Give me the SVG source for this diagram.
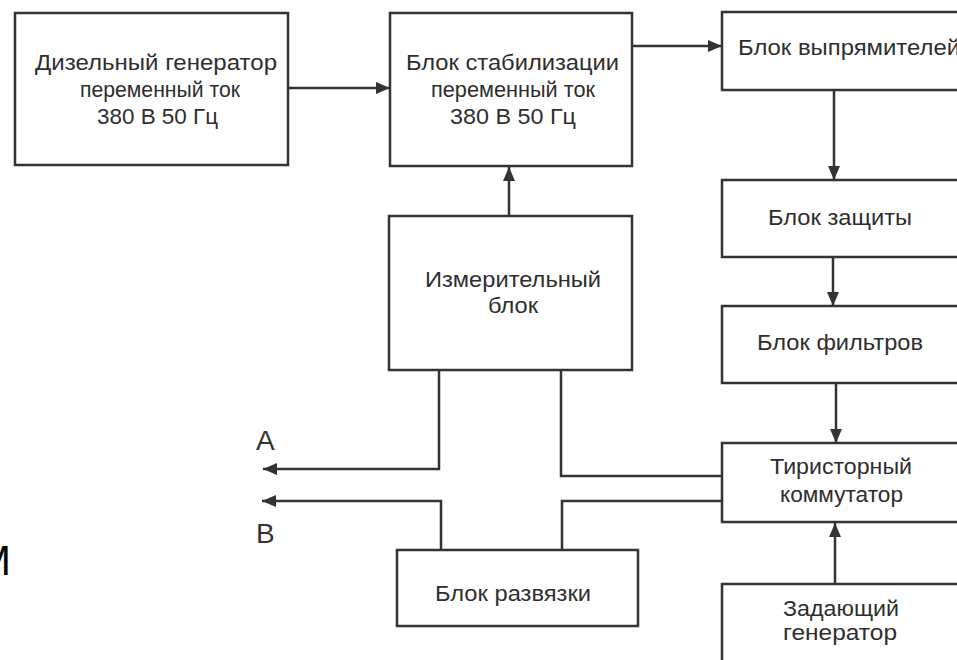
<svg xmlns="http://www.w3.org/2000/svg" width="957" height="660" viewBox="0 0 957 660">
<defs>
<marker id="arr" markerUnits="userSpaceOnUse" markerWidth="15" markerHeight="12" refX="14" refY="6" orient="auto">
<path d="M0,0 L14,6 L0,12 z" fill="#333"/>
</marker>
<style>
.box{fill:#fff;stroke:#333;stroke-width:2.5}
.t{font-family:"Liberation Sans",Arial,sans-serif;font-size:22px;fill:#2e2e2e}
.lbl{font-family:"Liberation Sans",Arial,sans-serif;font-size:28px;fill:#333}
.c{fill:none;stroke:#333;stroke-width:2.5}
.a{marker-end:url(#arr)}
</style>
</defs>
<rect width="957" height="660" fill="#fff"/>
<g id="connectors">
<path class="c a" d="M288,88 L390,88"/>
<path class="c a" d="M632,46 L722,46"/>
<path class="c a" d="M834,90 L834,180"/>
<path class="c a" d="M833,257 L833,306"/>
<path class="c a" d="M836,383 L836,443"/>
<path class="c a" d="M835,584 L835,523"/>
<path class="c a" d="M509,216 L509,167"/>
<path class="c a" d="M439,370 L439,469 L263,469"/>
<path class="c" d="M561,370 L561,476 L722,476"/>
<path class="c" d="M722,501 L562,501 L562,550"/>
<path class="c a" d="M441,550 L441,501 L262,501"/>
</g>
<g id="diesel">
<rect class="box" x="15" y="13" width="273" height="152"/>
<text class="t" x="35" y="70" textLength="242" lengthAdjust="spacingAndGlyphs">Дизельный генератор</text>
<text class="t" x="80" y="97" textLength="160" lengthAdjust="spacingAndGlyphs">переменный ток</text>
<text class="t" x="97" y="124" textLength="121" lengthAdjust="spacingAndGlyphs">380 В 50 Гц</text>
</g>
<g id="stab">
<rect class="box" x="390" y="13" width="242" height="153"/>
<text class="t" x="406" y="70" textLength="213" lengthAdjust="spacingAndGlyphs">Блок стабилизации</text>
<text class="t" x="431" y="97" textLength="164" lengthAdjust="spacingAndGlyphs">переменный ток</text>
<text class="t" x="450" y="124" textLength="126" lengthAdjust="spacingAndGlyphs">380 В 50 Гц</text>
</g>
<g id="rect">
<rect class="box" x="722" y="12" width="250" height="78"/>
<text class="t" x="738" y="55" textLength="222" lengthAdjust="spacingAndGlyphs">Блок выпрямителей</text>
</g>
<g id="prot">
<rect class="box" x="722" y="180" width="250" height="77"/>
<text class="t" x="768" y="225" textLength="144" lengthAdjust="spacingAndGlyphs">Блок защиты</text>
</g>
<g id="filt">
<rect class="box" x="722" y="306" width="250" height="77"/>
<text class="t" x="757" y="350" textLength="166" lengthAdjust="spacingAndGlyphs">Блок фильтров</text>
</g>
<g id="thyr">
<rect class="box" x="722" y="443" width="250" height="79"/>
<text class="t" x="770" y="474" textLength="142" lengthAdjust="spacingAndGlyphs">Тиристорный</text>
<text class="t" x="780" y="502" textLength="123" lengthAdjust="spacingAndGlyphs">коммутатор</text>
</g>
<g id="master">
<rect class="box" x="722" y="584" width="250" height="100"/>
<text class="t" x="783" y="616" textLength="116" lengthAdjust="spacingAndGlyphs">Задающий</text>
<text class="t" x="783" y="640" textLength="114" lengthAdjust="spacingAndGlyphs">генератор</text>
</g>
<g id="meas">
<rect class="box" x="389" y="216" width="243" height="154"/>
<text class="t" x="425" y="287" textLength="176" lengthAdjust="spacingAndGlyphs">Измерительный</text>
<text class="t" x="488" y="313" textLength="50" lengthAdjust="spacingAndGlyphs">блок</text>
</g>
<g id="decoup">
<rect class="box" x="397" y="550" width="241" height="76"/>
<text class="t" x="435" y="601" textLength="156" lengthAdjust="spacingAndGlyphs">Блок развязки</text>
</g>
<g id="labels">
<text class="lbl" x="256" y="450">A</text>
<text class="lbl" x="256" y="543">B</text>
<text x="-24" y="575" font-family="'Liberation Sans',Arial,sans-serif" font-size="42" fill="#000">М</text>
</g>
</svg>
